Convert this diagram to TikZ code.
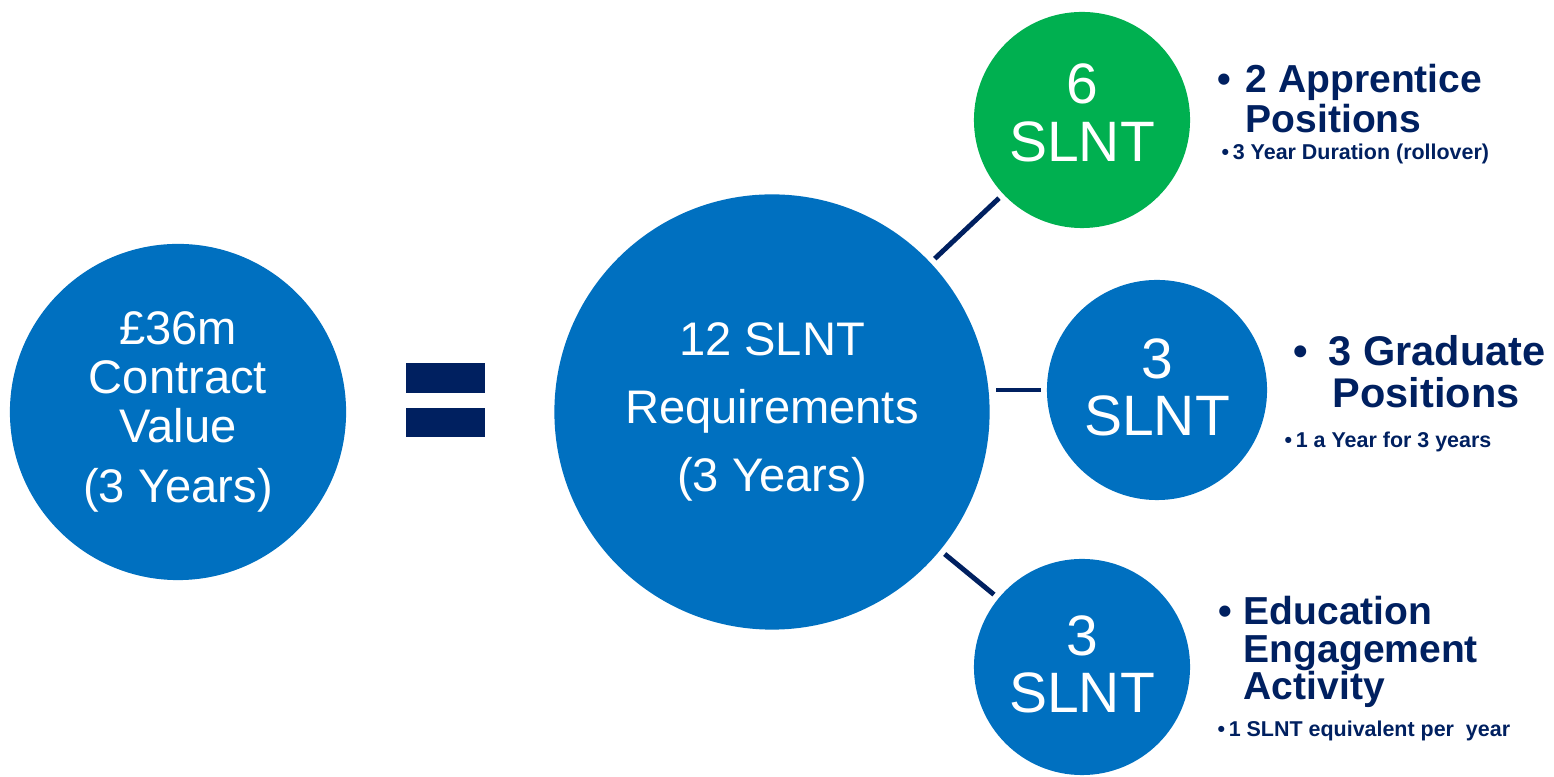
\documentclass[tikz,border=0pt]{standalone}
\usepackage{fontspec}
\setmainfont{Liberation Sans}
\definecolor{slntblue}{RGB}{0,112,192}
\definecolor{slntgreen}{RGB}{0,176,80}
\definecolor{navy}{RGB}{0,32,96}

\begin{document}
\begin{tikzpicture}[x=0.01cm,y=-0.01cm,
    disc/.style={circle,fill=slntblue,text=white,align=center,inner sep=0pt},
    small/.style={disc,minimum size=2.16cm,text depth=0.06cm,font=\fontsize{16.2}{16.4}\selectfont},
    link/.style={navy,line width=1.4pt,shorten <=1.5pt,shorten >=1.5pt},
    head/.style={anchor=base west,align=left,inner sep=0pt,text=navy,font=\bfseries\fontsize{11.1}{11.4}\selectfont},
    note/.style={anchor=base west,inner sep=0pt,text=navy,font=\bfseries\fontsize{6.1}{7}\selectfont}]
  \useasboundingbox (0,0) rectangle (1554,777);
  % circles
  \node[disc,minimum size=3.36cm,font=\fontsize{13.4}{13.8}\selectfont] (value) at (178,412)
    {£36m\\Contract\\Value\\[3.3pt](3 Years)};
  \node[disc,minimum size=4.35cm,font=\fontsize{13.4}{19.3}\selectfont] (total) at (772,412)
    {12 SLNT\\Requirements\\(3 Years)};
  \node[small,fill=slntgreen,text depth=0.15cm] (apprentice) at (1082,120) {6\\SLNT};
  \node[small,minimum size=2.2cm] (graduate) at (1157,390) {3\\SLNT};
  \node[small] (education) at (1082,667) {3\\SLNT};
  % equals sign
  \fill[navy] (406,363) rectangle (485,393);
  \fill[navy] (406,408) rectangle (485,437);
  % links
  \draw[link] (total) -- (apprentice);
  \draw[link] (graduate.west) -- (total.east |- graduate.west);
  \draw[link] (total) -- (education);
  % bullet texts
  \node[head] (apprentice head) at (1245,133) {\llap{\textbullet\hspace{0.15cm}}2 Apprentice\\Positions};
  \node[note] (apprentice note) at (1221,160) {\textbullet\,3 Year Duration (rollover)};
  \node[head,font=\bfseries\fontsize{11.8}{12.2}\selectfont] (graduate head) at (1328,408)
    {\llap{\textbullet\hspace{0.21cm}}3 Graduate\\\hspace{0.04cm}Positions};
  \node[note] (graduate note) at (1284,448) {\textbullet\,1 a Year for 3 years};
  \node[head,font=\bfseries\fontsize{11.1}{10.7}\selectfont] (education head) at (1243,700)
    {\llap{\textbullet\hspace{0.12cm}}Education\\Engagement\\Activity};
  \node[note] (education note) at (1217,737) {\textbullet\,1 SLNT equivalent per\ \ year};
\end{tikzpicture}
\end{document}
